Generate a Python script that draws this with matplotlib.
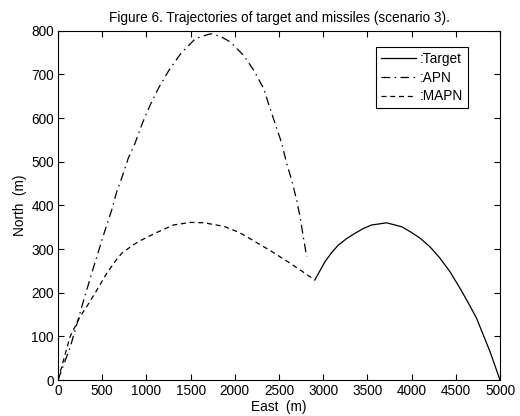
import matplotlib
matplotlib.use("Agg")
import matplotlib.pyplot as plt

# Target trajectory (from start at East=5000 to intercept)
target_x = [5000, 4887, 4811, 4736, 4643, 4548, 4434, 4321, 4208, 4095, 3982, 3888, 3718,
            3548, 3454, 3360, 3266, 3171, 3096, 3020, 2905]
target_y = [0, 65, 103, 141, 176, 210, 248, 279, 305, 325, 340, 351, 360,
            355, 347, 336, 324, 309, 292, 271, 229]

# APN missile trajectory
apn_x = [0, 141, 292, 405, 532, 607, 664, 720, 795, 871, 954, 1052, 1141, 1254, 1386,
         1555, 1725, 1838, 1951, 2102, 2215, 2328, 2379, 2455, 2531, 2587, 2643, 2700,
         2738, 2775, 2813]
apn_y = [0, 77, 184, 260, 343, 389, 431, 462, 508, 542, 588, 634, 670, 709, 747,
         782, 793, 787, 774, 743, 709, 667, 634, 588, 542, 496, 458, 412,
         374, 328, 282]

# MAPN missile trajectory
mapn_x = [0, 136, 249, 325, 419, 551, 640, 720, 820, 909, 1097, 1305, 1500, 1650, 1876, 2050,
          2178, 2404, 2630, 2775, 2905]
mapn_y = [0, 99, 145, 168, 199, 244, 270, 290, 305, 317, 336, 355, 361, 360, 352, 338,
          323, 296, 267, 247, 229]

x_ticks = [0, 500, 1000, 1500, 2000, 2500, 3000, 3500, 4000, 4500, 5000]
y_ticks = [0, 100, 200, 300, 400, 500, 600, 700, 800]

plt.rcParams['font.family'] = ['Liberation Sans', 'DejaVu Sans']
fs = 9.8

fig = plt.figure(figsize=(5.2, 4.16), dpi=100)
ax = fig.add_axes([58/520, 1 - 380/416, 442/520, 349.3/416])

lw = 0.9
ax.plot(target_x, target_y, color='black', lw=lw, linestyle='-', label=':Target')
ax.plot(apn_x, apn_y, color='black', lw=lw, linestyle=(0, (7, 3.5, 1.2, 3.5)), label=':APN')
ax.plot(mapn_x, mapn_y, color='black', lw=lw, linestyle=(0, (4, 3)), label=':MAPN')

ax.set_xlim(0, 5000)
ax.set_ylim(0, 800)
ax.set_xticks(x_ticks)
ax.set_yticks(y_ticks)
ax.tick_params(direction='in', top=True, right=True, length=4, width=0.8,
               labelsize=fs, pad=3)
for s in ax.spines.values():
    s.set_linewidth(0.8)

ax.set_xlabel('East  (m)', fontsize=fs, labelpad=1)
ax.set_ylabel('North  (m)', fontsize=fs, labelpad=3)
ax.set_title('Figure 6. Trajectories of target and missiles (scenario 3).', fontsize=fs, pad=6)

leg = ax.legend(loc='upper right', bbox_to_anchor=(0.928, 0.953), fontsize=fs,
                frameon=True, fancybox=False, edgecolor='black', framealpha=1,
                handlelength=2.6, borderpad=0.35, labelspacing=0.35, handletextpad=0.3,
                borderaxespad=0)
leg.get_frame().set_linewidth(0.8)

fig.savefig('out.png', dpi=100)
